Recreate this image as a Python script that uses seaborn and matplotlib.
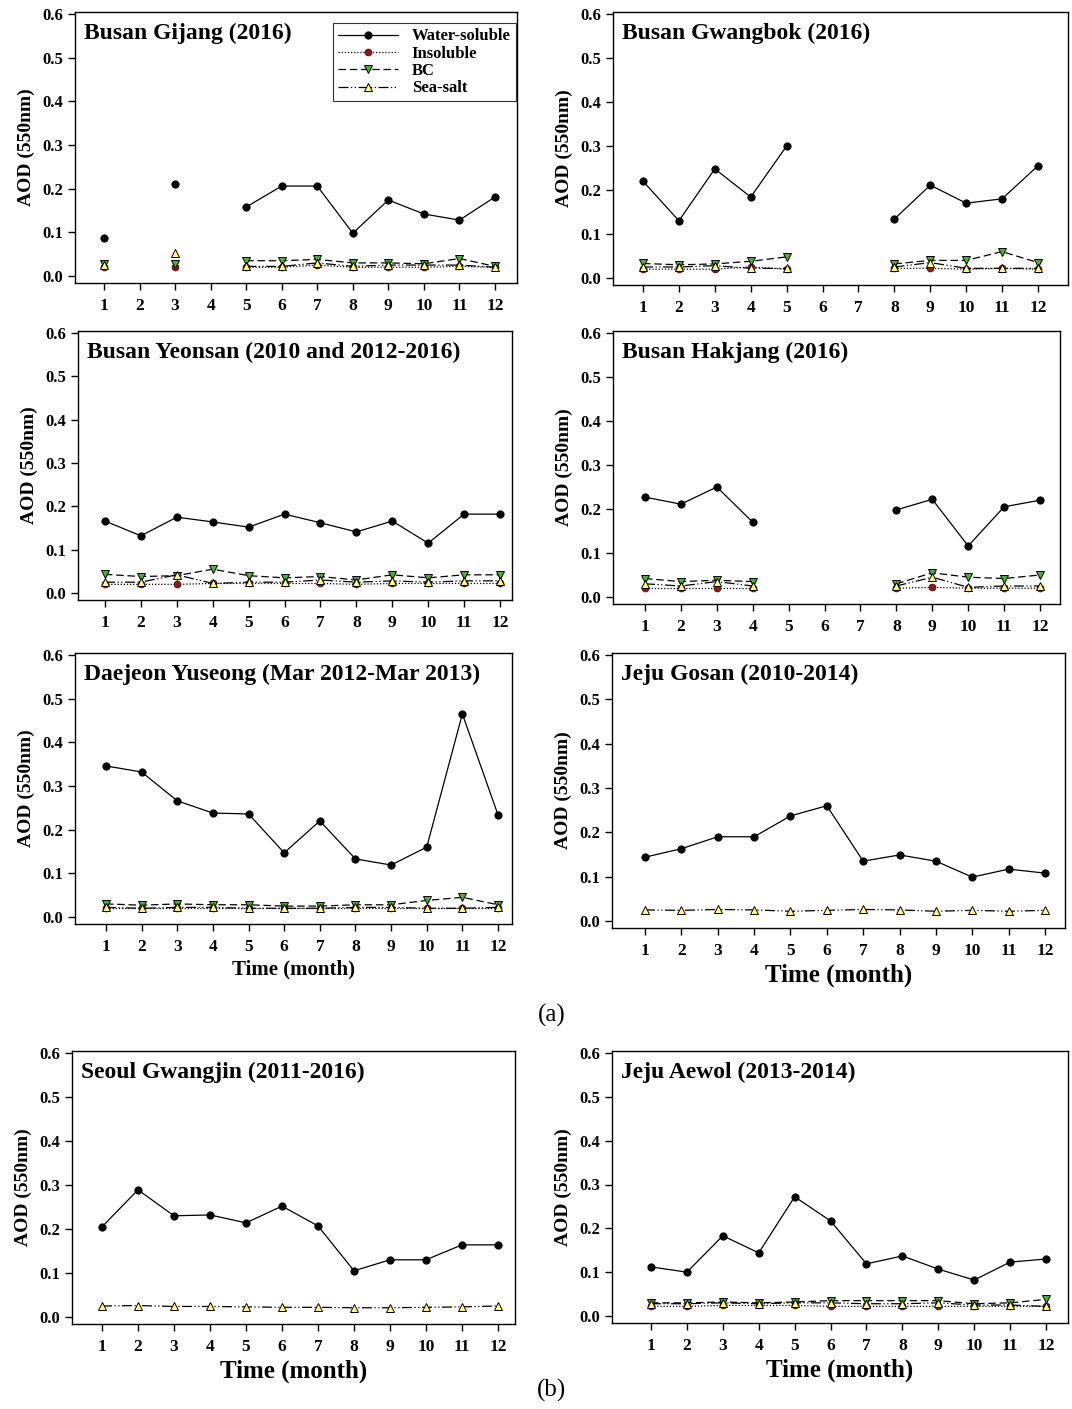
import numpy as np
import pandas as pd
import matplotlib
matplotlib.use("Agg")
import matplotlib.pyplot as plt
from matplotlib.lines import Line2D
import seaborn as sns

nan = np.nan
months = list(range(1, 13))
series_names = ["Water-soluble", "Insoluble", "BC", "Sea-salt"]

titles = ["Busan Gijang (2016)", "Busan Gwangbok (2016)",
          "Busan Yeonsan (2010 and 2012-2016)", "Busan Hakjang (2016)",
          "Daejeon Yuseong (Mar 2012-Mar 2013)", "Jeju Gosan (2010-2014)",
          "Seoul Gwangjin (2011-2016)", "Jeju Aewol (2013-2014)"]

# ---- Busan Gijang
gijang_ws = [0.087, nan, 0.210, nan, 0.158, 0.206, 0.206, 0.098, 0.174, 0.142, 0.128, 0.181]
gijang_ins = [0.020, nan, 0.020, nan, 0.020, 0.020, 0.025, 0.020, 0.020, 0.020, 0.022, 0.020]
gijang_bc = [0.027, nan, 0.028, nan, 0.035, 0.035, 0.038, 0.030, 0.030, 0.028, 0.040, 0.022]
gijang_ss = [0.025, nan, 0.052, nan, 0.022, 0.022, 0.030, 0.022, 0.025, 0.025, 0.025, 0.020]
# ---- Busan Gwangbok
gwangbok_ws = [0.220, 0.130, 0.248, 0.184, 0.300, nan, nan, 0.134, 0.211, 0.170, 0.180, 0.255]
gwangbok_ins = [0.020, 0.020, 0.020, 0.025, 0.020, nan, nan, 0.022, 0.022, 0.020, 0.022, 0.020]
gwangbok_bc = [0.033, 0.030, 0.032, 0.038, 0.048, nan, nan, 0.032, 0.040, 0.040, 0.060, 0.035]
gwangbok_ss = [0.025, 0.025, 0.028, 0.022, 0.022, nan, nan, 0.025, 0.035, 0.022, 0.022, 0.022]
# ---- Busan Yeonsan
yeonsan_ws = [0.166, 0.132, 0.175, 0.164, 0.152, 0.182, 0.162, 0.141, 0.166, 0.115, 0.182, 0.182]
yeonsan_ins = [0.020, 0.020, 0.020, 0.022, 0.022, 0.022, 0.022, 0.020, 0.022, 0.022, 0.022, 0.022]
yeonsan_bc = [0.043, 0.038, 0.040, 0.055, 0.040, 0.035, 0.038, 0.030, 0.042, 0.035, 0.042, 0.042]
yeonsan_ss = [0.025, 0.025, 0.042, 0.022, 0.025, 0.025, 0.030, 0.025, 0.028, 0.025, 0.028, 0.028]
# ---- Busan Hakjang
hakjang_ws = [0.227, 0.211, 0.250, 0.170, nan, nan, nan, 0.198, 0.222, 0.116, 0.205, 0.220]
hakjang_ins = [0.020, 0.020, 0.020, 0.020, nan, nan, nan, 0.020, 0.022, 0.020, 0.020, 0.020]
hakjang_bc = [0.042, 0.035, 0.038, 0.035, nan, nan, nan, 0.030, 0.055, 0.045, 0.042, 0.050]
hakjang_ss = [0.030, 0.025, 0.035, 0.025, nan, nan, nan, 0.025, 0.045, 0.022, 0.025, 0.025]
# ---- Daejeon Yuseong
yuseong_ws = [0.346, 0.332, 0.266, 0.238, 0.236, 0.147, 0.220, 0.133, 0.119, 0.160, 0.465, 0.234]
yuseong_ins = [0.020, 0.020, 0.020, 0.020, 0.020, 0.020, 0.020, 0.020, 0.020, 0.020, 0.020, 0.020]
yuseong_bc = [0.030, 0.027, 0.030, 0.028, 0.028, 0.025, 0.025, 0.028, 0.028, 0.038, 0.045, 0.028]
yuseong_ss = [0.022, 0.020, 0.022, 0.022, 0.020, 0.020, 0.020, 0.022, 0.022, 0.020, 0.020, 0.022]
# ---- Jeju Gosan
gosan_ws = [0.144, 0.163, 0.190, 0.190, 0.237, 0.260, 0.135, 0.149, 0.135, 0.099, 0.117, 0.108]
gosan_ins = [nan] * 12
gosan_bc = [nan] * 12
gosan_ss = [0.025, 0.024, 0.026, 0.025, 0.022, 0.024, 0.026, 0.025, 0.022, 0.024, 0.022, 0.024]
# ---- Seoul Gwangjin
gwangjin_ws = [0.205, 0.289, 0.230, 0.232, 0.214, 0.252, 0.207, 0.105, 0.130, 0.130, 0.164, 0.164]
gwangjin_ins = [nan] * 12
gwangjin_bc = [nan] * 12
gwangjin_ss = [0.025, 0.026, 0.024, 0.024, 0.023, 0.022, 0.022, 0.021, 0.021, 0.022, 0.023, 0.025]
# ---- Jeju Aewol
aewol_ws = [0.112, 0.100, 0.183, 0.144, 0.272, 0.217, 0.119, 0.137, 0.107, 0.082, 0.123, 0.130]
aewol_ins = [0.022, 0.022, 0.024, 0.024, 0.024, 0.022, 0.022, 0.022, 0.022, 0.022, 0.022, 0.022]
aewol_bc = [0.030, 0.030, 0.032, 0.030, 0.032, 0.035, 0.035, 0.035, 0.035, 0.028, 0.030, 0.038]
aewol_ss = [0.028, 0.028, 0.030, 0.028, 0.030, 0.030, 0.028, 0.028, 0.030, 0.025, 0.025, 0.022]

panels = [
    (gijang_ws, gijang_ins, gijang_bc, gijang_ss),
    (gwangbok_ws, gwangbok_ins, gwangbok_bc, gwangbok_ss),
    (yeonsan_ws, yeonsan_ins, yeonsan_bc, yeonsan_ss),
    (hakjang_ws, hakjang_ins, hakjang_bc, hakjang_ss),
    (yuseong_ws, yuseong_ins, yuseong_bc, yuseong_ss),
    (gosan_ws, gosan_ins, gosan_bc, gosan_ss),
    (gwangjin_ws, gwangjin_ins, gwangjin_bc, gwangjin_ss),
    (aewol_ws, aewol_ins, aewol_bc, aewol_ss),
]

ytick_vals = [0.0, 0.1, 0.2, 0.3, 0.4, 0.5, 0.6]

# ---------------- styling / layout ----------------
sns.set_style("ticks")
plt.rcParams["font.family"] = ["Liberation Serif", "DejaVu Serif"]
plt.rcParams["font.weight"] = "bold"
plt.rcParams["text.color"] = "black"
plt.rcParams["axes.labelcolor"] = "black"
plt.rcParams["xtick.color"] = "black"
plt.rcParams["ytick.color"] = "black"
plt.rcParams["xtick.labelcolor"] = "black"
plt.rcParams["ytick.labelcolor"] = "black"

styles = {
    "Water-soluble": dict(color="black", marker="o", mfc="black", mec="black",
                          ms=5.2, linestyle="-"),
    "Insoluble": dict(color="black", marker="o", mfc="#8b1c1c", mec="#5a1010",
                      ms=4.8, linestyle=(0, (1, 1.5))),
    "BC": dict(color="black", marker="v", mfc="#4caf3a", mec="black",
               ms=5.8, linestyle=(0, (6, 3))),
    "Sea-salt": dict(color="black", marker="^", mfc="#ffff80", mec="black",
                     ms=5.8, linestyle=(0, (8, 2, 1, 2, 1, 2))),
}

W, H = 1072, 1409
# (left px, right px, x=1 px, x=12 px, y=0.6 px, y=0 px)
geom = [
    (75, 517, 104, 495, 14, 276),
    (613, 1068, 643, 1038, 14, 278),
    (78, 512, 105, 500, 333, 593),
    (613, 1060, 645, 1040, 333, 597),
    (75, 512, 106, 498, 655, 917),
    (612, 1065, 645, 1045, 655, 921),
    (72, 515, 102, 498, 1053, 1317),
    (612, 1068, 651, 1046, 1053, 1316),
]
xlabel_sizes = [None, None, None, None, 15, 18, 18, 18]

fig = plt.figure(figsize=(W / 100, H / 100), dpi=100)

for i, (vals, g) in enumerate(zip(panels, geom)):
    left, right, x1, x12, y6, y0 = g
    ppu_y = (y0 - y6) / 0.6
    top = y6 - 0.005 * ppu_y
    bottom = y0 + 0.016 * ppu_y
    ppu_x = (x12 - x1) / 11
    xmin = 1 - (x1 - left) / ppu_x
    xmax = 12 + (right - x12) / ppu_x
    ax = fig.add_axes([left / W, 1 - bottom / H, (right - left) / W, (bottom - top) / H])

    for name, v in zip(series_names, vals):
        df = pd.DataFrame({"month": months, "value": v})
        df = df.dropna()
        if df.empty:
            continue
        df["seg"] = (df["month"].diff() != 1).cumsum()
        st = styles[name]
        sns.lineplot(data=df, x="month", y="value", units="seg", estimator=None,
                     ax=ax, color=st["color"], marker=st["marker"],
                     markerfacecolor=st["mfc"], markeredgecolor=st["mec"],
                     markersize=st["ms"], markeredgewidth=0.7,
                     linestyle=st["linestyle"], linewidth=0.9, sort=False)

    ax.set_xlim(xmin, xmax)
    ax.set_ylim(-0.016, 0.605)
    ax.set_xticks(months)
    ax.set_xticklabels([str(m) for m in months], fontsize=12.5, fontweight="bold")
    ax.set_yticks(ytick_vals)
    ax.set_yticklabels([f"{t:.1f}" for t in ytick_vals], fontsize=12, fontweight="bold")
    ax.tick_params(direction="out", length=5, width=1, colors="black")
    ax.tick_params(axis="x", pad=6)
    for s in ax.spines.values():
        s.set_visible(True)
        s.set_color("black")
        s.set_linewidth(1)
    ax.set_ylabel("AOD (550nm)", fontsize=14, fontweight="bold", labelpad=5)
    if xlabel_sizes[i]:
        ax.set_xlabel("Time (month)", fontsize=xlabel_sizes[i],
                      fontweight="bold", labelpad=3)
    else:
        ax.set_xlabel("")
    ax.text(0.02, 0.96, titles[i], transform=ax.transAxes, ha="left", va="top",
            fontsize=17, fontweight="bold", color="black")
    ax.grid(False)

    if i == 0:
        handles = []
        for name in series_names:
            st = styles[name]
            handles.append(Line2D([0], [0], color=st["color"], marker=st["marker"],
                                  markerfacecolor=st["mfc"], markeredgecolor=st["mec"],
                                  markersize=st["ms"], markeredgewidth=0.7,
                                  linestyle=st["linestyle"], linewidth=0.9))
        leg = ax.legend(handles, series_names, loc="upper right",
                        bbox_to_anchor=(0.997, 0.957), borderaxespad=0.0,
                        frameon=True, fancybox=False,
                        edgecolor="black", fontsize=12, handlelength=3.6,
                        labelspacing=0.08, borderpad=0.3, handletextpad=0.8,
                        markerfirst=True)
        leg.get_frame().set_linewidth(0.8)
        for t in leg.get_texts():
            t.set_fontweight("bold")
            t.set_color("black")
    else:
        if ax.get_legend() is not None:
            ax.get_legend().remove()

fig.text(552 / W, 1 - 1015 / H, "(a)", ha="center", va="center", fontsize=18,
         fontweight="normal")
fig.text(552 / W, 1 - 1390 / H, "(b)", ha="center", va="center", fontsize=18,
         fontweight="normal")

fig.savefig("out.png", dpi=100, facecolor="white")
